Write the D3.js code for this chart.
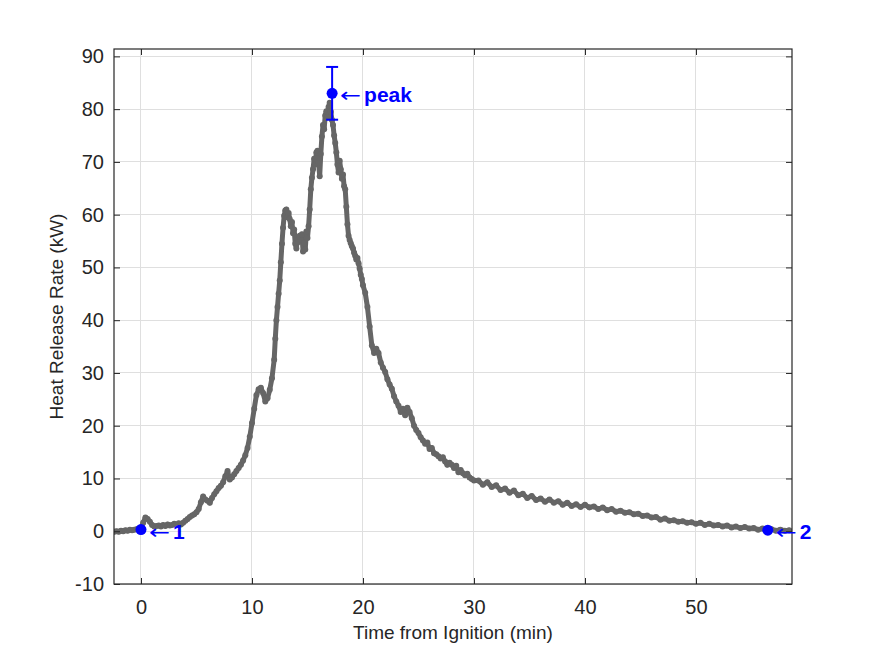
<!DOCTYPE html>
<html>
<head>
<meta charset="utf-8">
<script src="https://cdn.jsdelivr.net/npm/d3@7"></script>
<style>
  html, body { margin: 0; padding: 0; background: #fff; }
  svg { display: block; }
</style>
</head>
<body>
<svg id="chart" width="875" height="656"></svg>
<script>
// ---------------- DATA ----------------
// [time from ignition (min), heat release rate (kW)]
const hrrSeries = [
  [-2.4,-0.1],[-2.2,0.0],[-2.0,-0.1],[-1.8,0.1],[-1.6,0.0],[-1.4,0.2],[-1.2,0.1],[-1.0,0.3],[-0.8,0.2],[-0.6,0.3],
  [-0.4,0.4],[-0.2,0.5],[0.0,0.6],[0.2,1.6],[0.4,2.6],[0.6,2.3],[0.8,1.8],[1.0,1.2],[1.2,0.9],[1.4,1.0],
  [1.6,1.1],[1.8,0.9],[2.0,1.2],[2.2,1.0],[2.4,1.3],[2.6,1.1],[2.8,1.2],[3.0,1.4],[3.2,1.2],[3.4,1.5],
  [3.6,1.3],[3.8,1.6],[4.0,2.0],
  [4.2,2.3],[4.4,2.7],[4.6,3.0],[4.8,3.2],[5.0,3.6],[5.2,4.2],[5.4,5.5],[5.6,6.6],[5.8,6.0],[6.0,5.8],
  [6.2,5.4],[6.4,6.3],[6.6,7.0],[6.8,7.6],[7.0,8.2],[7.2,8.6],[7.4,9.3],[7.6,10.4],[7.8,11.4],[8.0,9.8],
  [8.2,10.2],[8.4,10.8],[8.6,11.4],[8.8,12.0],[9.0,12.6],[9.2,13.4],[9.4,14.4],[9.6,15.8],[9.8,17.9],[10.0,20.5],
  [10.2,23.2],[10.4,25.8],[10.6,26.9],[10.8,27.2],[11.0,26.2],[11.2,24.6],[11.4,25.2],[11.6,26.8],[11.8,29.0],[12.0,32.5],
  [12.1,36.5],[12.2,40.0],[12.3,42.5],[12.4,45.0],[12.5,47.5],[12.6,51.0],[12.7,54.5],[12.8,57.5],[12.9,59.8],[13.0,60.8],
  [13.1,61.0],[13.2,59.5],[13.3,60.3],[13.4,59.2],[13.5,57.8],[13.6,58.6],[13.7,56.5],[13.8,57.2],[13.9,54.5],[14.0,53.6],
  [14.1,55.4],[14.2,54.8],[14.3,56.0],[14.4,55.2],[14.5,56.3],[14.6,53.0],[14.7,54.6],[14.8,53.4],[14.9,56.8],[15.0,55.6],
  [15.1,57.8],[15.2,61.0],[15.3,64.8],[15.4,67.0],[15.5,68.6],[15.6,70.6],[15.7,69.5],[15.8,71.8],[15.9,72.1],[16.0,69.8],
  [16.1,67.3],[16.2,71.5],[16.3,74.8],[16.4,77.0],[16.5,76.2],[16.6,78.8],[16.7,79.6],[16.8,78.4],[16.9,80.4],[17.0,81.2],
  [17.1,79.5],[17.2,78.0],[17.3,77.0],[17.4,75.0],[17.5,73.6],[17.6,71.8],[17.7,69.5],[17.8,68.0],[17.9,70.2],[18.0,68.6],
  [18.1,66.8],[18.2,67.6],[18.3,65.4],[18.4,64.8],[18.5,61.5],[18.6,58.2],[18.7,56.0],[18.8,55.2],[18.9,54.6],[19.0,54.0],
  [19.1,53.6],[19.2,52.8],[19.3,52.2],[19.4,51.5],[19.5,51.8],[19.6,50.8],[19.7,49.8],[19.8,48.6],[19.9,47.8],[20.0,46.6],
  [20.2,45.2],[20.4,42.5],[20.6,38.8],[20.8,35.2],[21.0,33.8],[21.2,34.6],[21.4,33.8],[21.6,32.0],[21.8,31.0],[22.0,30.2],
  [22.2,28.8],[22.4,27.8],[22.6,27.0],[22.8,25.6],[23.0,24.6],[23.2,23.8],[23.4,22.6],[23.6,23.2],[23.8,22.0],[24.0,23.4],
  [24.2,22.6],[24.4,21.4],[24.6,20.0],[24.8,19.2],[25.0,18.6],[25.2,17.8],[25.4,17.2],[25.6,16.6],[25.8,16.8],[26.0,15.6],
  [26.2,15.8],[26.4,14.8],[26.6,14.6],[26.8,14.2],[27.0,13.8],[27.2,14.0],[27.4,13.2],[27.6,12.6],[27.8,13.0],[28.0,12.6],
  [28.2,12.0],[28.4,12.4],[28.6,11.2],[28.8,11.6],[29.0,11.0],[29.2,10.6],[29.4,10.9],[29.6,10.2],[29.8,9.9],[30.0,9.6],
  [30.4,9.6],[30.8,8.8],[31.2,9.3],[31.6,8.4],[32.0,8.7],[32.4,7.8],[32.8,8.1],[33.2,7.3],[33.6,7.7],[34.0,6.8],
  [34.4,7.1],[34.8,6.3],[35.2,6.7],[35.6,5.9],[36.0,6.2],[36.4,5.6],[36.8,6.0],[37.2,5.4],[37.6,5.7],[38.0,5.0],
  [38.4,5.4],[38.8,4.8],[39.2,5.1],[39.6,4.6],[40.0,5.0],[40.4,4.5],[40.8,4.7],[41.2,4.2],[41.6,4.5],[42.0,4.0],
  [42.4,4.2],[42.8,3.7],[43.2,3.9],[43.6,3.5],[44.0,3.6],[44.4,3.2],[44.8,3.3],[45.2,2.9],[45.6,3.0],[46.0,2.6],
  [46.4,2.7],[46.8,2.2],[47.2,2.4],[47.6,2.0],[48.0,2.1],[48.4,1.8],[48.8,1.9],[49.2,1.6],[49.6,1.7],[50.0,1.4],
  [50.4,1.6],[50.8,1.2],[51.2,1.4],[51.6,1.1],[52.0,1.2],[52.4,0.9],[52.8,1.1],[53.2,0.7],[53.6,0.9],[54.0,0.6],
  [54.4,0.8],[54.8,0.5],[55.2,0.6],[55.6,0.3],[56.0,0.5],[56.4,0.2],[56.8,0.4],[57.2,0.1],[57.6,0.3],[58.0,0.1],
  [58.4,0.2]
];

const markerTimes  = [0.0, 56.47];
const markerValues = [0.32, 0.2];
const markerLabels = ["1", "2"];

const peakTime = 17.22;
const peakValue = 83.0;
const peakLow = 78.0;
const peakHigh = 88.0;
const peakLabel = "peak";

const xTicks = [0, 10, 20, 30, 40, 50];
const yTicks = [-10, 0, 10, 20, 30, 40, 50, 60, 70, 80, 90];
const xDomain = [-2.43, 58.65];
const yDomain = [-10, 91.4];

const xLabel = "Time from Ignition (min)";
const yLabel = "Heat Release Rate (kW)";

// ---------------- LAYOUT ----------------
const plot = { left: 114, right: 792, top: 49, bottom: 584 };
const FONT = "'Liberation Sans', Arial, Helvetica, sans-serif";
const AX = "#262626";
const GRID = "#dfdfdf";
const LINE = "#666666";
const BLUE = "#0000ff";

const svg = d3.select("#chart");
const x = d3.scaleLinear().domain(xDomain).range([plot.left, plot.right]);
const y = d3.scaleLinear().domain(yDomain).range([plot.bottom, plot.top]);
const fmt = d => String(d); // plain hyphen-minus like the reference

// grid
const grid = svg.append("g");
grid.selectAll(".gx").data(xTicks).join("line")
  .attr("x1", d => x(d)).attr("x2", d => x(d))
  .attr("y1", plot.top).attr("y2", plot.bottom)
  .attr("stroke", GRID).attr("stroke-width", 1).attr("shape-rendering", "crispEdges");
grid.selectAll(".gy").data(yTicks).join("line")
  .attr("y1", d => y(d)).attr("y2", d => y(d))
  .attr("x1", plot.left).attr("x2", plot.right)
  .attr("stroke", GRID).attr("stroke-width", 1).attr("shape-rendering", "crispEdges");

// data line
svg.append("clipPath").attr("id", "clipArea").append("rect")
  .attr("x", plot.left).attr("y", plot.top)
  .attr("width", plot.right - plot.left).attr("height", plot.bottom - plot.top);

const dataG = svg.append("g").attr("clip-path", "url(#clipArea)");
dataG.append("path")
  .datum(hrrSeries)
  .attr("fill", "none")
  .attr("stroke", LINE)
  .attr("stroke-width", 5)
  .attr("stroke-linejoin", "round")
  .attr("stroke-linecap", "round")
  .attr("d", d3.line().x(d => x(d[0])).y(d => y(d[1])));
dataG.selectAll("circle.pt").data(hrrSeries).join("circle")
  .attr("class", "pt")
  .attr("cx", d => x(d[0])).attr("cy", d => y(d[1]))
  .attr("r", 3).attr("fill", LINE);

// axes
function styleAxis(g) {
  g.select(".domain").remove();
  g.selectAll(".tick line").attr("stroke", AX).attr("stroke-width", 1);
  g.selectAll(".tick text").attr("fill", AX).attr("font-family", FONT).attr("font-size", 20);
}
svg.append("g").attr("transform", `translate(0,${plot.bottom})`)
  .call(d3.axisBottom(x).tickValues(xTicks).tickSize(-6).tickPadding(16).tickFormat(fmt))
  .call(styleAxis);
svg.append("g").attr("transform", `translate(0,${plot.top})`)
  .call(d3.axisTop(x).tickValues(xTicks).tickSize(-6).tickFormat(""))
  .call(styleAxis);
svg.append("g").attr("transform", `translate(${plot.left},0)`)
  .call(d3.axisLeft(y).tickValues(yTicks).tickSize(-6).tickPadding(10).tickFormat(fmt))
  .call(styleAxis);
svg.append("g").attr("transform", `translate(${plot.right},0)`)
  .call(d3.axisRight(y).tickValues(yTicks).tickSize(-6).tickFormat(""))
  .call(styleAxis);

// box
svg.append("rect")
  .attr("x", plot.left).attr("y", plot.top)
  .attr("width", plot.right - plot.left).attr("height", plot.bottom - plot.top)
  .attr("fill", "none").attr("stroke", AX).attr("stroke-width", 1.2);

// axis labels
svg.append("text")
  .attr("x", (plot.left + plot.right) / 2).attr("y", 639)
  .attr("text-anchor", "middle")
  .attr("font-family", FONT).attr("font-size", 19).attr("fill", AX)
  .text(xLabel);
svg.append("text")
  .attr("transform", `translate(63,${(plot.top + plot.bottom) / 2}) rotate(-90)`)
  .attr("text-anchor", "middle")
  .attr("font-family", FONT).attr("font-size", 19).attr("fill", AX)
  .text(yLabel);

// peak error bar
const ann = svg.append("g");
const capW = 6;
ann.append("line")
  .attr("x1", x(peakTime)).attr("x2", x(peakTime))
  .attr("y1", y(peakLow)).attr("y2", y(peakHigh))
  .attr("stroke", BLUE).attr("stroke-width", 2);
[peakLow, peakHigh].forEach(v => {
  ann.append("line")
    .attr("x1", x(peakTime) - capW).attr("x2", x(peakTime) + capW)
    .attr("y1", y(v)).attr("y2", y(v))
    .attr("stroke", BLUE).attr("stroke-width", 2);
});

const annPoints = markerTimes.map((t, i) => ({ t, v: markerValues[i], label: markerLabels[i] }));
annPoints.push({ t: peakTime, v: peakValue, label: peakLabel });

ann.selectAll("circle.mk").data(annPoints).join("circle")
  .attr("class", "mk")
  .attr("cx", d => x(d.t)).attr("cy", d => y(d.v))
  .attr("r", 5.5).attr("fill", BLUE);

ann.selectAll("text.arrow").data(annPoints).join("text")
  .attr("class", "arrow")
  .attr("x", d => x(d.t) + 8).attr("y", d => y(d.v) + 9)
  .attr("font-family", "'DejaVu Sans', sans-serif").attr("font-size", 20)
  .attr("textLength", 21).attr("lengthAdjust", "spacingAndGlyphs")
  .attr("fill", BLUE)
  .text("\u2190");

ann.selectAll("text.lbl").data(annPoints).join("text")
  .attr("class", "lbl")
  .attr("x", d => x(d.t) + 32).attr("y", d => y(d.v) + 9)
  .attr("font-family", FONT).attr("font-size", 21).attr("font-weight", "bold")
  .attr("fill", BLUE)
  .text(d => d.label);
</script>
</body>
</html>
